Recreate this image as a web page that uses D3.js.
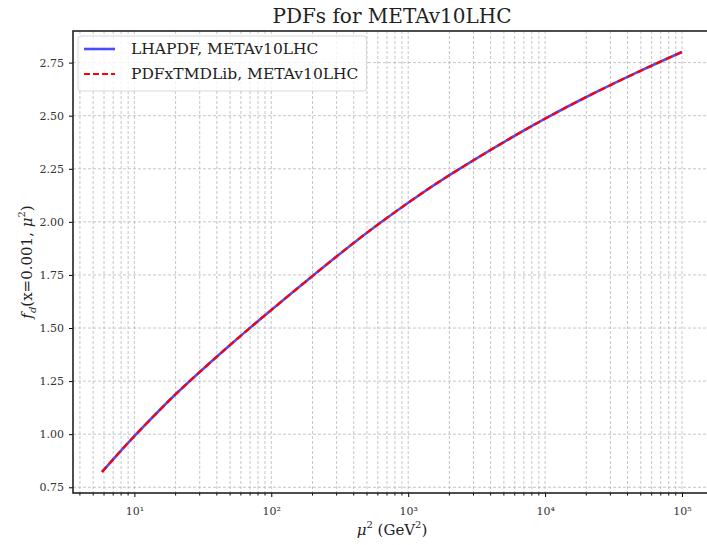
<!DOCTYPE html>
<html lang="en">
<head>
<meta charset="UTF-8">
<title>PDFs for METAv10LHC</title>
<script src="https://cdn.jsdelivr.net/npm/d3@7/dist/d3.min.js"></script>
<style>
body { margin: 0; background: #fff; }
svg { font-family: "DejaVu Serif", serif; }
.grid line { stroke: #b8b8b8; stroke-dasharray: 3,2; stroke-width: 0.8; }
</style>
</head>
<body>
<svg width="707" height="545"></svg>
<script>
// values
var mu2 = [5.8, 7, 10, 15, 20, 30, 50, 70, 100, 200, 300, 500, 1000, 2000, 5000, 10000, 20000, 50000, 100000];
var fLHAPDF = [0.822, 0.882, 0.991, 1.108, 1.188, 1.293, 1.420, 1.501, 1.585, 1.745, 1.837, 1.949, 2.090, 2.220, 2.376, 2.486, 2.588, 2.712, 2.800];
var fTMDLib = fLHAPDF.slice();
var yTicks = [0.75, 1.00, 1.25, 1.50, 1.75, 2.00, 2.25, 2.50, 2.75];
var xTicks = [10, 100, 1000, 10000, 100000];
var sup = ['\u00b9', '\u00b2', '\u00b3', '\u2074', '\u2075'];

var svg = d3.select('svg');
var m = {left: 73, right: 711, top: 31, bottom: 493};

// 5% margins like matplotlib (log space on x)
var lx = d3.extent(mu2, function(d) { return Math.log10(d); });
var px = (lx[1] - lx[0]) * 0.05;
var ey = d3.extent(fLHAPDF);
var py = (ey[1] - ey[0]) * 0.05;

var x = d3.scaleLog().domain([Math.pow(10, lx[0] - px), Math.pow(10, lx[1] + px)]).range([m.left, m.right]);
var y = d3.scaleLinear().domain([ey[0] - py, ey[1] + py]).range([m.bottom, m.top]);

// minor ticks on x
var minor = [];
for (var e = 0; e <= 5; e++) {
    for (var k = 2; k <= 9; k++) {
        var v = k * Math.pow(10, e);
        if (v > x.domain()[0] && v < x.domain()[1]) minor.push(v);
    }
}

var grid = svg.append('g').attr('class', 'grid');
grid.selectAll('.vminor').data(minor).enter().append('line')
    .attr('x1', d => x(d)).attr('x2', d => x(d)).attr('y1', m.top).attr('y2', m.bottom);
grid.selectAll('.vmajor').data(xTicks).enter().append('line')
    .attr('x1', d => x(d)).attr('x2', d => x(d)).attr('y1', m.top).attr('y2', m.bottom);
grid.selectAll('.h').data(yTicks).enter().append('line')
    .attr('x1', m.left).attr('x2', m.right).attr('y1', d => y(d)).attr('y2', d => y(d));

var pts = mu2.map(function(d, i) { return [d, fLHAPDF[i]]; });
var pts2 = mu2.map(function(d, i) { return [d, fTMDLib[i]]; });
var line = d3.line().x(d => x(d[0])).y(d => y(d[1])).curve(d3.curveNatural);

svg.append('path').datum(pts).attr('d', line)
    .attr('fill', 'none').attr('stroke', '#0000ff').attr('stroke-opacity', 0.7).attr('stroke-width', 2.6);
svg.append('path').datum(pts2).attr('d', line)
    .attr('fill', 'none').attr('stroke', '#ff0000').attr('stroke-width', 2.2).attr('stroke-dasharray', '7,3.5');

// axes
var xAxis = d3.axisBottom(x).tickValues(xTicks).tickSize(4).tickPadding(10)
    .tickFormat(function(d, i) { return '10' + sup[i]; });
var gx = svg.append('g').attr('transform', 'translate(0,' + m.bottom + ')').call(xAxis);
gx.append('g').selectAll('line').data(minor).enter().append('line')
    .attr('x1', d => x(d)).attr('x2', d => x(d)).attr('y1', 0).attr('y2', 2.5).attr('stroke', '#000');
var yAxis = d3.axisLeft(y).tickValues(yTicks).tickSize(4).tickPadding(5).tickFormat(d3.format('.2f'));
var gy = svg.append('g').attr('transform', 'translate(' + m.left + ',0)').call(yAxis);
[gx, gy].forEach(function(g) {
    g.select('.domain').remove();
    g.selectAll('text').attr('font-family', '"DejaVu Serif", serif').attr('font-size', 11).attr('fill', '#333');
    g.selectAll('.tick line').attr('stroke', '#000');
});

// frame
svg.append('rect').attr('x', m.left).attr('y', m.top)
    .attr('width', m.right - m.left).attr('height', m.bottom - m.top)
    .attr('fill', 'none').attr('stroke', '#222').attr('stroke-width', 1.6);

// title and labels
svg.append('text').attr('x', (m.left + m.right) / 2).attr('y', 23).attr('text-anchor', 'middle')
    .attr('font-size', 20).attr('fill', '#222').text('PDFs for METAv10LHC');

var xl = svg.append('text').attr('x', (m.left + m.right) / 2).attr('y', 535).attr('text-anchor', 'middle')
    .attr('font-size', 15).attr('fill', '#222');
xl.append('tspan').attr('font-style', 'italic').text('\u03bc');
xl.append('tspan').attr('font-size', 10).attr('dy', -7).text('2');
xl.append('tspan').attr('dy', 7).text(' (GeV');
xl.append('tspan').attr('font-size', 10).attr('dy', -7).text('2');
xl.append('tspan').attr('dy', 7).text(')');

var yl = svg.append('text').attr('transform', 'translate(32,' + ((m.top + m.bottom) / 2) + ') rotate(-90)')
    .attr('text-anchor', 'middle').attr('font-size', 15).attr('fill', '#222');
yl.append('tspan').attr('font-style', 'italic').text('f');
yl.append('tspan').attr('font-style', 'italic').attr('font-size', 10).attr('dy', 4).text('d');
yl.append('tspan').attr('dy', -4).text('(x=0.001, ');
yl.append('tspan').attr('font-style', 'italic').text('\u03bc');
yl.append('tspan').attr('font-size', 10).attr('dy', -7).text('2');
yl.append('tspan').attr('dy', 7).text(')');

// legend
var lg = svg.append('g').attr('transform', 'translate(78,36)');
var box = lg.append('rect').attr('height', 55).attr('rx', 3)
    .attr('fill', '#fff').attr('fill-opacity', 0.8).attr('stroke', '#d8d8d8');
var items = [
    {name: 'LHAPDF, METAv10LHC', color: '#0000ff', op: 0.7, w: 2.6, dash: null},
    {name: 'PDFxTMDLib, METAv10LHC', color: '#ff0000', op: 1, w: 2.2, dash: '6,3'}
];
var maxW = 0;
items.forEach(function(it, i) {
    var yy = 13 + i * 25;
    lg.append('line').attr('x1', 6).attr('x2', 37).attr('y1', yy).attr('y2', yy)
        .attr('stroke', it.color).attr('stroke-opacity', it.op).attr('stroke-width', it.w)
        .attr('stroke-dasharray', it.dash);
    var t = lg.append('text').attr('x', 53).attr('y', yy + 5).attr('font-size', 15.5).attr('fill', '#222').text(it.name);
    maxW = Math.max(maxW, t.node().getComputedTextLength());
});
box.attr('width', 53 + maxW + 8);
</script>
</body>
</html>
